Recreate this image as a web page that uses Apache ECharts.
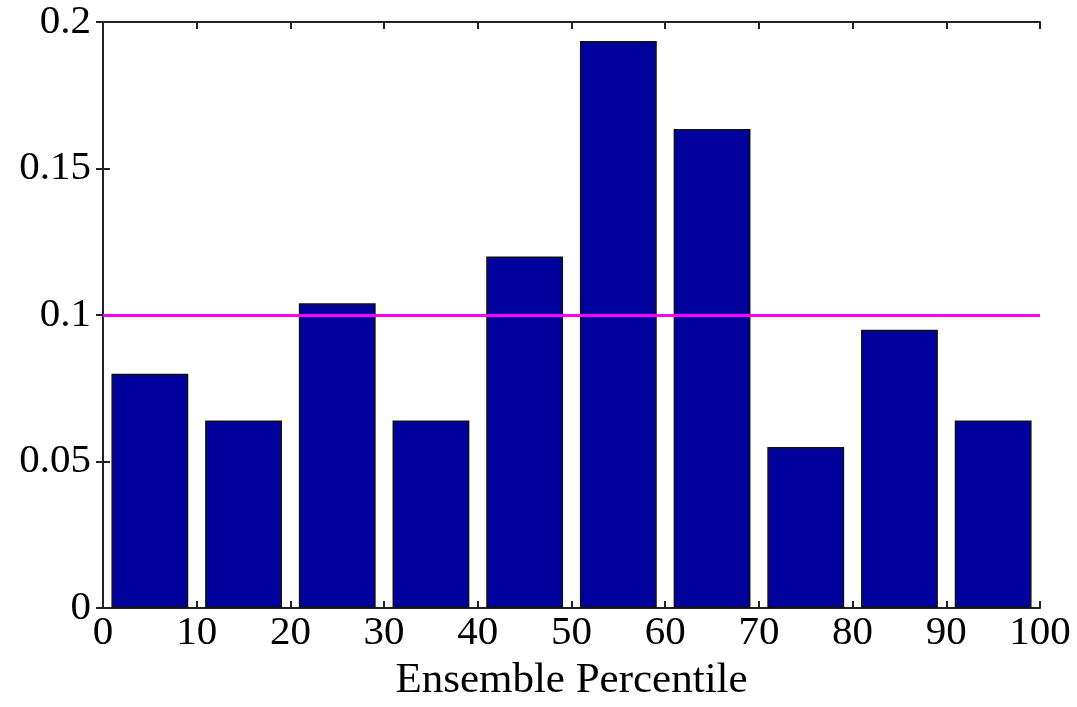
<!DOCTYPE html>
<html>
<head>
<meta charset="utf-8">
<script src="https://cdn.jsdelivr.net/npm/echarts@6/dist/echarts.min.js"></script>
<style>
  html, body { margin: 0; padding: 0; background: #fff; }
  #chart { width: 1077px; height: 707px; }
</style>
</head>
<body>
<div id="chart"></div>
<script>
"use strict";
var bins = ["0-10", "10-20", "20-30", "30-40", "40-50", "50-60", "60-70", "70-80", "80-90", "90-100"];
var freq = [0.08, 0.064, 0.104, 0.064, 0.12, 0.1935, 0.1635, 0.055, 0.095, 0.064];
var refLevel = 0.1;
var xLabel = "Ensemble Percentile";

var font = "Liberation Serif";
var axisColor = "#222";

function chart1() {
  var barChart = echarts.init(document.getElementById("chart"));

  var option = {
    animation: false,
    grid: {
      top: 22,
      right: 37,
      bottom: 98,
      left: 103,
    },
    xAxis: [
      {
        type: "value",
        min: 0,
        max: 100,
        interval: 10,
        position: "bottom",
        name: xLabel,
        nameLocation: "middle",
        nameGap: 38,
        nameTextStyle: { fontFamily: font, fontSize: 43, color: "#000" },
        axisLine: { show: true, lineStyle: { color: axisColor, width: 2 } },
        axisTick: { inside: true, length: 7, lineStyle: { color: axisColor, width: 2 } },
        axisLabel: { fontFamily: font, fontSize: 41, color: "#000", margin: 5 },
        splitLine: { show: false },
      },
      {
        type: "category",
        data: bins,
        show: false,
      },
      {
        type: "value",
        min: 0,
        max: 100,
        interval: 10,
        position: "top",
        axisLine: { show: true, lineStyle: { color: axisColor, width: 2 } },
        axisTick: { inside: true, length: 7, lineStyle: { color: axisColor, width: 2 } },
        axisLabel: { show: false },
        splitLine: { show: false },
      },
    ],
    yAxis: [
      {
        type: "value",
        min: 0,
        max: 0.2,
        interval: 0.05,
        position: "left",
        axisLine: { show: true, lineStyle: { color: axisColor, width: 2 } },
        axisTick: { show: true, inside: true, length: 7, lineStyle: { color: axisColor, width: 2 } },
        axisLabel: { fontFamily: font, fontSize: 41, color: "#000", margin: 12 },
        splitLine: { show: false },
      },
      {
        type: "value",
        min: 0,
        max: 0.2,
        interval: 0.05,
        position: "right",
        axisLine: { show: true, lineStyle: { color: axisColor, width: 2 } },
        axisTick: { show: true, inside: true, length: 7, lineStyle: { color: axisColor, width: 2 } },
        axisLabel: { show: false },
        splitLine: { show: false },
      },
    ],
    series: [
      {
        type: "bar",
        xAxisIndex: 1,
        yAxisIndex: 0,
        barWidth: "82%",
        data: freq,
        itemStyle: { color: "#00009c", borderColor: "#111", borderWidth: 1.5 },
        markLine: {
          silent: true,
          symbol: "none",
          label: { show: false },
          lineStyle: { color: "#ff00ff", width: 3, type: "solid" },
          data: [{ yAxis: refLevel }],
        },
      },
    ],
  };

  barChart.setOption(option);
}

chart1();
</script>
</body>
</html>
